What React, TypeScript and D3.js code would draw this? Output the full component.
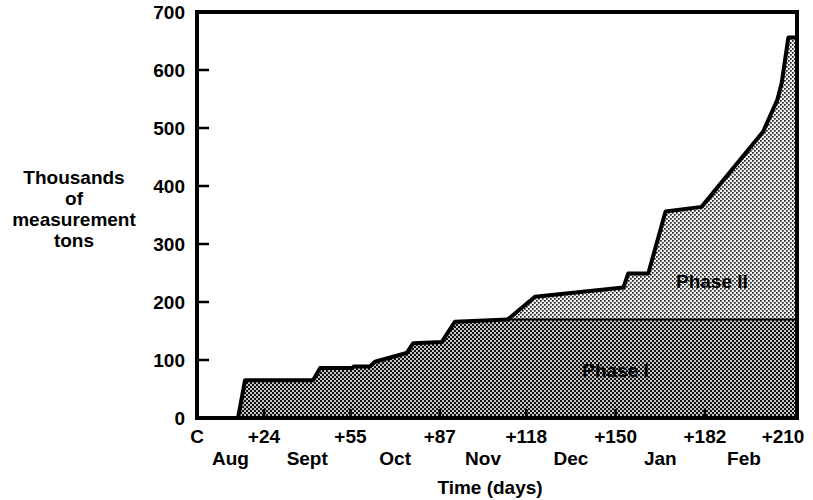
import React, { useEffect, useRef } from "react";
import * as d3 from "d3";

// x axis: days after C-day, with month names between the ticks
const tickDays = [0, 24, 55, 87, 118, 150, 182, 210];
const tickLabels = ["C", "+24", "+55", "+87", "+118", "+150", "+182", "+210"];
const months = ["Aug", "Sept", "Oct", "Nov", "Dec", "Jan", "Feb"];
const yTicks = [0, 100, 200, 300, 400, 500, 600, 700];
const yTitle = ["Thousands", "of", "measurement", "tons"];

// Phase I cumulative (thousands of measurement tons)
const phase1Days = [0, 14.7, 17.2, 41.6, 44.1, 55.5, 56.3, 62, 63.8, 75.1, 77.5, 87.7, 90, 92.4, 111.4, 215];
const phase1Tons = [0, 0, 65, 65, 86, 86, 89, 89, 97, 112, 129, 131, 148, 166, 170, 170];

// Phase II cumulative, stacked on top of Phase I
const phase2Days = [111.4, 121.1, 152.8, 154.5, 161.7, 167.9, 180.8, 202.9, 207.9, 209.5, 211.9, 215];
const phase2Tons = [170, 209, 225, 249, 249, 356, 364, 494, 548, 577, 656, 656];

const W = 813, H = 500;
const margin = { top: 12, right: 16, bottom: 82, left: 197 };
const FONT = "'Liberation Sans', Arial, Helvetica, sans-serif";

export default function App() {
  const ref = useRef<SVGSVGElement>(null);

  useEffect(() => {
    const svg = d3.select(ref.current);
    svg.selectAll("*").remove();

    const width = W - margin.left - margin.right;
    const height = H - margin.top - margin.bottom;

    const x = d3.scaleLinear().domain([0, 215]).range([margin.left, margin.left + width]);
    const y = d3.scaleLinear().domain([0, 700]).range([margin.top + height, margin.top]);

    // stipple patterns like the printed screen tones
    const defs = svg.append("defs");
    const p1 = defs.append("pattern")
      .attr("id", "dots1").attr("patternUnits", "userSpaceOnUse")
      .attr("width", 4).attr("height", 4);
    p1.append("rect").attr("width", 4).attr("height", 4).attr("fill", "#c4c4c4");
    p1.append("rect").attr("x", 0).attr("y", 0).attr("width", 2).attr("height", 2).attr("fill", "#111");
    p1.append("rect").attr("x", 2).attr("y", 2).attr("width", 2).attr("height", 2).attr("fill", "#111");

    const p2 = defs.append("pattern")
      .attr("id", "dots2").attr("patternUnits", "userSpaceOnUse")
      .attr("width", 4).attr("height", 4);
    p2.append("rect").attr("width", 4).attr("height", 4).attr("fill", "#f2f2f2");
    p2.append("rect").attr("x", 0).attr("y", 0).attr("width", 1.7).attr("height", 1.7).attr("fill", "#222");
    p2.append("rect").attr("x", 2).attr("y", 2).attr("width", 1.7).attr("height", 1.7).attr("fill", "#222");

    const p1Data = phase1Days.map((d, i) => [d, phase1Tons[i]] as [number, number]);
    const p2Data = phase2Days.map((d, i) => [d, phase2Tons[i]] as [number, number]);
    const p1Top = phase1Tons[phase1Tons.length - 1];

    const area1 = d3.area<[number, number]>()
      .x(d => x(d[0])).y0(y(0)).y1(d => y(d[1]));
    const area2 = d3.area<[number, number]>()
      .x(d => x(d[0])).y0(y(p1Top)).y1(d => y(d[1]));
    const line = d3.line<[number, number]>().x(d => x(d[0])).y(d => y(d[1]));

    svg.append("path").attr("d", area1(p1Data)).attr("fill", "url(#dots1)");
    svg.append("path").attr("d", area2(p2Data)).attr("fill", "url(#dots2)");

    // Phase I boundary: heavy while it is the top line, lighter under Phase II
    const split = phase2Days[0];
    svg.append("path")
      .attr("d", line(p1Data.filter(d => d[0] <= split)))
      .attr("fill", "none").attr("stroke", "#000").attr("stroke-width", 4)
      .attr("stroke-linejoin", "round");
    svg.append("path")
      .attr("d", line(p1Data.filter(d => d[0] >= split)))
      .attr("fill", "none").attr("stroke", "#000").attr("stroke-width", 2);
    svg.append("path")
      .attr("d", line(p2Data))
      .attr("fill", "none").attr("stroke", "#000").attr("stroke-width", 4)
      .attr("stroke-linejoin", "round");

    // phase labels
    svg.append("text")
      .attr("x", x(184.5)).attr("y", y(233))
      .attr("text-anchor", "middle").attr("dominant-baseline", "middle")
      .style("font", `bold 19px ${FONT}`).attr("fill", "#000")
      .text("Phase II");
    svg.append("text")
      .attr("x", x(150)).attr("y", y(80))
      .attr("text-anchor", "middle").attr("dominant-baseline", "middle")
      .style("font", `bold 19px ${FONT}`).attr("fill", "#000")
      .text("Phase I");

    // frame
    svg.append("rect")
      .attr("x", x(0)).attr("y", y(700))
      .attr("width", x(215) - x(0)).attr("height", y(0) - y(700))
      .attr("fill", "none").attr("stroke", "#000").attr("stroke-width", 4);

    // inward ticks
    svg.selectAll(".ytick")
      .data(yTicks.filter(v => v > 0 && v < 700))
    .enter().append("line")
      .attr("x1", x(0)).attr("x2", x(0) + 12)
      .attr("y1", d => y(d)).attr("y2", d => y(d))
      .attr("stroke", "#000").attr("stroke-width", 2.5);

    svg.selectAll(".xtick")
      .data(tickDays.filter(d => d > 0 && d < 210))
    .enter().append("line")
      .attr("x1", d => x(d)).attr("x2", d => x(d))
      .attr("y1", y(0)).attr("y2", y(0) - 9)
      .attr("stroke", "#000").attr("stroke-width", 2.5);

    // y tick labels
    svg.selectAll(".ylabel")
      .data(yTicks)
    .enter().append("text")
      .attr("x", x(0) - 12).attr("y", d => y(d))
      .attr("text-anchor", "end").attr("dominant-baseline", "central")
      .style("font", `bold 19px ${FONT}`)
      .text(d => d);

    // x tick labels
    svg.selectAll(".xlabel")
      .data(tickDays)
    .enter().append("text")
      .attr("x", d => x(d)).attr("y", y(0) + 25)
      .attr("text-anchor", "middle")
      .style("font", `bold 19px ${FONT}`)
      .text((d, i) => tickLabels[i]);

    // month names sit midway between ticks
    svg.selectAll(".month")
      .data(months)
    .enter().append("text")
      .attr("x", (d, i) => x((tickDays[i] + tickDays[i + 1]) / 2)).attr("y", y(0) + 47)
      .attr("text-anchor", "middle")
      .style("font", `bold 19px ${FONT}`)
      .text(d => d);

    svg.append("text")
      .attr("x", x(105)).attr("y", y(0) + 76)
      .attr("text-anchor", "middle")
      .style("font", `bold 19px ${FONT}`)
      .text("Time (days)");

    svg.selectAll(".ytitle")
      .data(yTitle)
    .enter().append("text")
      .attr("x", 74).attr("y", (d, i) => 184 + i * 21)
      .attr("text-anchor", "middle")
      .style("font", `bold 19px ${FONT}`)
      .text(d => d);
  }, []);

  return (
    <svg ref={ref} width={W} height={H}
      style={{ position: "absolute", left: 0, top: 0, background: "#fff" }} />
  );
}
